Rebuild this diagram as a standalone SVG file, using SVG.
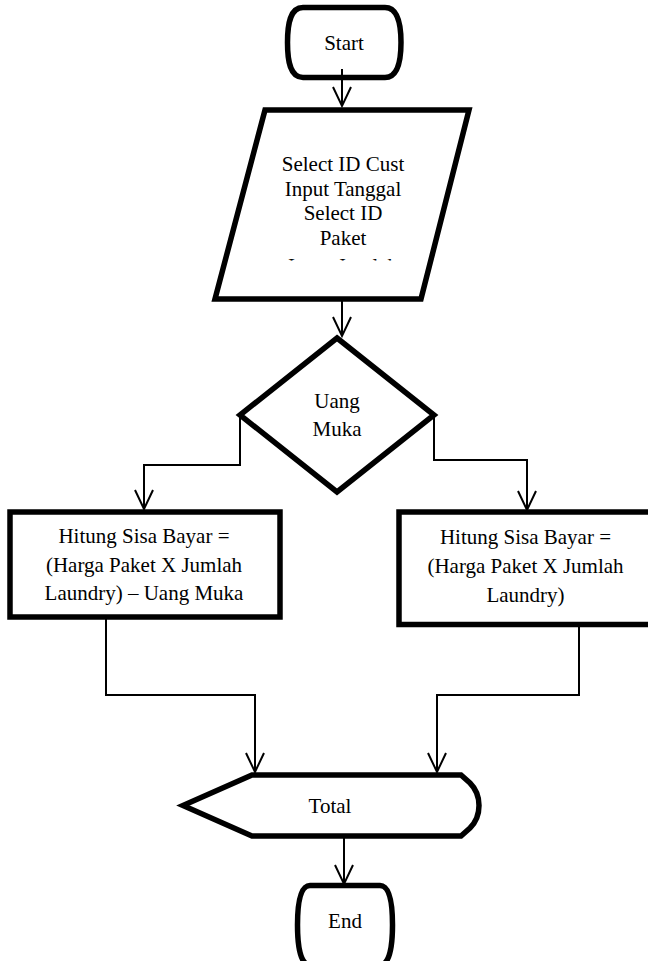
<svg xmlns="http://www.w3.org/2000/svg" width="648" height="961" viewBox="0 0 648 961">
  <style>
    .shape { fill: #ffffff; stroke: #000000; stroke-width: 5.5; stroke-linejoin: miter; }
    .conn { fill: none; stroke: #000000; stroke-width: 2; }
    .label { font-family: "Liberation Serif", "Times New Roman", serif; font-size: 21px; fill: #000000; text-anchor: middle; }
  </style>
  <defs>
    <marker id="arrow" markerUnits="userSpaceOnUse" markerWidth="20" markerHeight="20" orient="auto" refX="0" refY="0" overflow="visible">
      <path d="M-19,-9 L0,0 L-19,9" fill="none" stroke="#000000" stroke-width="2"/>
    </marker>
    <clipPath id="inputClip">
      <rect x="215" y="140" width="255" height="120.5"/>
    </clipPath>
  </defs>
  <rect width="648" height="961" fill="#ffffff"/>

  <!-- connectors -->
  <g id="connectors">
    <path class="conn" d="M342,69 V106" marker-end="url(#arrow)"/>
    <path class="conn" d="M342,300 V336" marker-end="url(#arrow)"/>
    <path class="conn" d="M240,415 V465 H144 V509" marker-end="url(#arrow)"/>
    <path class="conn" d="M434,415 V460 H527 V510" marker-end="url(#arrow)"/>
    <path class="conn" d="M106,617 V695 H255 V772" marker-end="url(#arrow)"/>
    <path class="conn" d="M579,620 V695 H437 V772" marker-end="url(#arrow)"/>
    <path class="conn" d="M344,838 V884" marker-end="url(#arrow)"/>
  </g>

  <!-- start terminator -->
  <g id="start">
    <path class="shape" d="M303,7.5 H385 C398,7.5 401,24 401,42.5 C401,61 398,77.5 385,77.5 H303 C290,77.5 287.5,61 287.5,42.5 C287.5,24 290,7.5 303,7.5 Z" fill-opacity="0"/>
    <text class="label" x="344" y="50">Start</text>
  </g>

  <!-- input parallelogram -->
  <g id="input">
    <polygon class="shape" points="265,110 469,110 421,299 215,299"/>
    <g clip-path="url(#inputClip)">
      <text class="label" x="343" y="171">Select ID Cust</text>
      <text class="label" x="343" y="195.5">Input Tanggal</text>
      <text class="label" x="343" y="220">Select ID</text>
      <text class="label" x="343" y="244.5">Paket</text>
      <text class="label" x="343" y="272.5">Input Jumlah</text>
    </g>
  </g>

  <!-- decision -->
  <g id="decision">
    <polygon class="shape" points="337,338 434,415 337,492 240,415"/>
    <text class="label" x="337" y="407.5">Uang</text>
    <text class="label" x="337" y="436">Muka</text>
  </g>

  <!-- process with down payment -->
  <g id="process-left">
    <rect class="shape" x="10" y="512" width="270" height="105"/>
    <text class="label" x="144" y="543">Hitung Sisa Bayar =</text>
    <text class="label" x="144" y="571.5">(Harga Paket X Jumlah</text>
    <text class="label" x="144" y="600">Laundry) – Uang Muka</text>
  </g>

  <!-- process without down payment -->
  <g id="process-right">
    <rect class="shape" x="399" y="512" width="262" height="112.5"/>
    <text class="label" x="525.5" y="544">Hitung Sisa Bayar =</text>
    <text class="label" x="525.5" y="572.5">(Harga Paket X Jumlah</text>
    <text class="label" x="525.5" y="601.5">Laundry)</text>
  </g>

  <!-- display -->
  <g id="total">
    <path class="shape" d="M252,775 H461 L470,783 C482,795 482,816 470,828 L461,836 H252 L183,805.5 Z"/>
    <text class="label" x="330" y="812.5">Total</text>
  </g>

  <!-- end terminator -->
  <g id="end">
    <path class="shape" d="M310,885.5 H380 C390,885.5 392.5,905 392.5,925 C392.5,945 390,965 380,965 H310 C300,965 297.5,945 297.5,925 C297.5,905 300,885.5 310,885.5 Z"/>
    <text class="label" x="345" y="928">End</text>
  </g>
</svg>
